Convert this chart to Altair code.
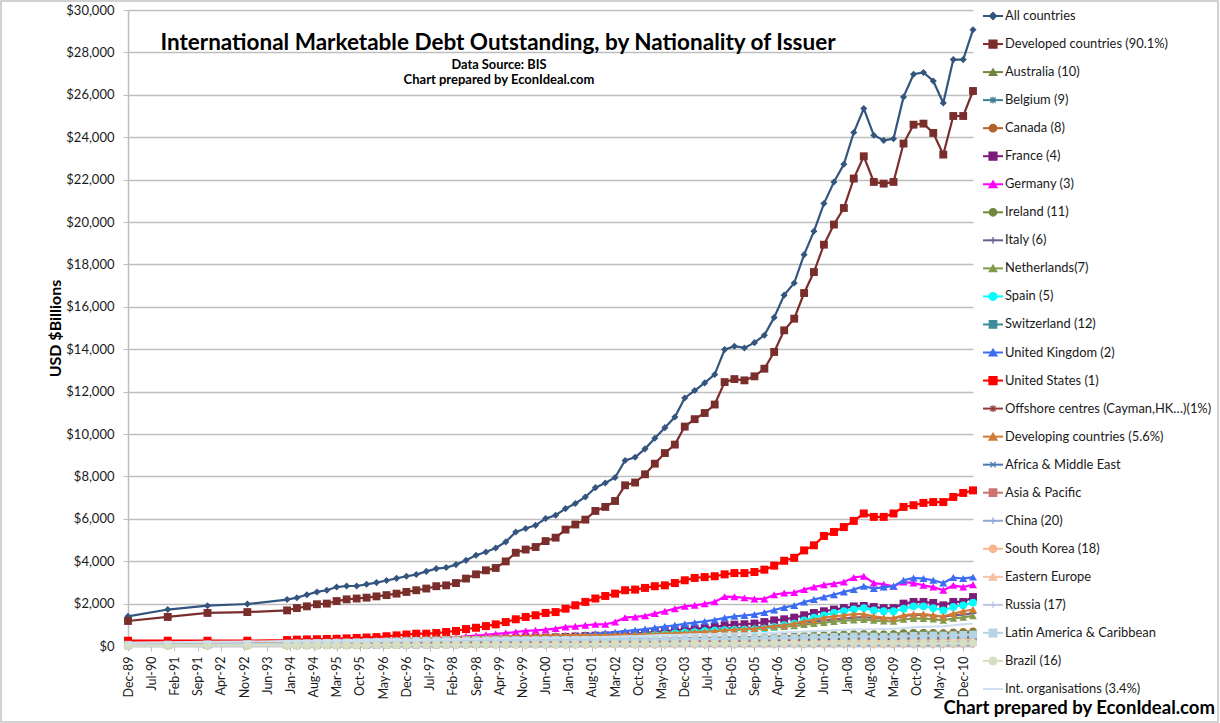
import altair as alt
import pandas as pd

# ---------------- data ----------------
dates = ["1989-12-01", "1990-12-01", "1991-12-01", "1992-12-01", "1993-12-01"] + \
    [f"{y}-{m:02d}-01" for y in range(1994, 2012) for m in (3, 6, 9, 12)][:69]

all_countries = [
    1400, 1720, 1900, 1980, 2190, 2280, 2420, 2550, 2630, 2780,
    2830, 2830, 2910, 2990, 3090, 3190, 3290, 3370, 3520, 3650,
    3700, 3840, 4040, 4280, 4430, 4620, 4910, 5380, 5540, 5690,
    6010, 6170, 6480, 6720, 7030, 7470, 7690, 7950, 8750, 8900,
    9300, 9800, 10300, 10800, 11700, 12050, 12410, 12810, 13980, 14140,
    14060, 14310, 14660, 15500, 16550, 17120, 18460, 19560, 20870, 21890,
    22720, 24220, 25350, 24090, 23850, 23930, 25900, 26970, 27050, 26650,
    25610, 27660, 27660, 29070]
developed = [
    1180, 1370, 1560, 1600, 1680, 1790, 1870, 1970, 2000, 2120,
    2200, 2240, 2280, 2340, 2400, 2470, 2550, 2630, 2710, 2820,
    2860, 2970, 3180, 3380, 3570, 3680, 3990, 4400, 4550, 4670,
    4950, 5110, 5490, 5730, 5960, 6370, 6560, 6840, 7580, 7710,
    8100, 8600, 9100, 9500, 10350, 10700, 10990, 11390, 12450, 12590,
    12530, 12720, 13080, 13870, 14890, 15440, 16650, 17640, 18930, 19880,
    20660, 22050, 23100, 21890, 21810, 21890, 23700, 24590, 24640, 24200,
    23180, 25000, 25000, 26180]
australia = [
    40, 45, 50, 55, 60, 62, 64, 66, 68, 70,
    72, 74, 76, 80, 84, 88, 92, 96, 100, 105,
    110, 115, 120, 125, 130, 135, 140, 145, 150, 155,
    160, 165, 170, 180, 190, 200, 210, 220, 235, 250,
    265, 280, 295, 310, 330, 345, 360, 375, 390, 395,
    400, 410, 420, 435, 450, 465, 480, 495, 510, 520,
    530, 535, 540, 500, 470, 470, 520, 550, 560, 560,
    550, 580, 600, 620]
belgium = [
    20, 25, 30, 35, 40, 42, 44, 46, 48, 50,
    52, 54, 56, 58, 60, 62, 64, 66, 68, 70,
    72, 75, 78, 82, 86, 90, 95, 100, 105, 110,
    115, 120, 125, 130, 135, 140, 145, 150, 160, 170,
    180, 190, 200, 210, 220, 225, 230, 235, 245, 248,
    250, 255, 260, 270, 280, 290, 300, 310, 320, 330,
    340, 345, 350, 345, 340, 340, 355, 365, 365, 360,
    350, 360, 365, 375]
canada = [
    60, 65, 70, 75, 85, 90, 95, 100, 105, 110,
    115, 120, 125, 130, 135, 140, 145, 150, 155, 160,
    165, 170, 180, 190, 200, 205, 210, 215, 220, 225,
    230, 235, 240, 250, 260, 270, 280, 290, 300, 310,
    320, 330, 340, 350, 360, 370, 380, 390, 400, 405,
    410, 420, 430, 445, 460, 475, 490, 505, 520, 535,
    550, 560, 570, 560, 555, 560, 600, 620, 630, 630,
    620, 650, 670, 700]
france = [
    100, 110, 120, 130, 140, 150, 160, 165, 170, 175,
    180, 185, 190, 195, 200, 205, 210, 215, 220, 230,
    240, 250, 265, 280, 300, 320, 340, 360, 380, 390,
    400, 410, 430, 450, 470, 490, 500, 520, 560, 590,
    620, 660, 700, 740, 790, 820, 850, 900, 980, 1010,
    1030, 1060, 1130, 1210, 1260, 1340, 1450, 1560, 1640, 1720,
    1790, 1870, 1890, 1840, 1790, 1790, 2000, 2080, 2080, 2030,
    1920, 2080, 2080, 2310]
germany = [
    80, 90, 100, 110, 130, 140, 150, 160, 170, 180,
    190, 200, 220, 240, 260, 280, 300, 320, 340, 370,
    390, 420, 460, 490, 530, 570, 610, 660, 710, 740,
    770, 820, 900, 930, 980, 1020, 1020, 1130, 1340, 1370,
    1420, 1530, 1640, 1760, 1870, 1920, 1990, 2080, 2330, 2320,
    2270, 2220, 2220, 2420, 2500, 2520, 2660, 2780, 2890, 2940,
    3020, 3230, 3290, 2970, 2910, 2820, 3020, 2970, 2860, 2780,
    2630, 2860, 2780, 2890]
ireland = [
    5, 8, 10, 12, 14, 15, 16, 17, 18, 20,
    22, 24, 26, 28, 30, 33, 36, 40, 44, 48,
    52, 56, 60, 65, 70, 75, 80, 85, 90, 100,
    110, 120, 130, 140, 150, 160, 170, 180, 195, 210,
    225, 240, 255, 270, 290, 305, 320, 335, 350, 360,
    370, 385, 400, 420, 440, 460, 480, 500, 520, 540,
    560, 570, 580, 570, 560, 570, 610, 630, 630, 620,
    600, 620, 630, 650]
italy = [
    50, 55, 60, 70, 80, 85, 90, 95, 100, 110,
    115, 120, 130, 140, 150, 160, 170, 180, 190, 200,
    210, 220, 240, 260, 280, 300, 320, 340, 360, 370,
    380, 390, 400, 420, 440, 460, 480, 500, 540, 560,
    590, 620, 650, 680, 720, 740, 760, 790, 830, 840,
    850, 870, 900, 950, 1000, 1040, 1100, 1160, 1210, 1260,
    1300, 1340, 1360, 1320, 1300, 1300, 1420, 1470, 1470, 1430,
    1380, 1450, 1480, 1550]
netherlands = [
    40, 45, 50, 55, 60, 65, 70, 75, 80, 85,
    90, 95, 100, 105, 110, 120, 130, 140, 150, 160,
    170, 180, 195, 210, 230, 250, 270, 290, 310, 330,
    350, 370, 390, 410, 430, 450, 470, 490, 520, 540,
    570, 600, 630, 660, 700, 720, 740, 760, 790, 800,
    810, 830, 850, 880, 910, 950, 1000, 1050, 1100, 1150,
    1190, 1220, 1240, 1200, 1170, 1160, 1250, 1290, 1290, 1260,
    1210, 1300, 1350, 1420]
spain = [
    30, 35, 40, 45, 50, 52, 54, 56, 58, 60,
    62, 64, 66, 70, 75, 80, 85, 90, 100, 110,
    120, 130, 140, 150, 160, 170, 180, 190, 200, 210,
    220, 240, 260, 280, 300, 330, 350, 380, 410, 440,
    470, 510, 550, 590, 630, 660, 700, 720, 750, 760,
    770, 790, 820, 900, 980, 1060, 1210, 1340, 1450, 1560,
    1650, 1730, 1790, 1680, 1640, 1640, 1760, 1870, 1870, 1790,
    1680, 1840, 1920, 2050]
switzerland = [
    30, 32, 34, 36, 40, 42, 44, 46, 48, 50,
    52, 54, 56, 58, 60, 62, 64, 66, 68, 70,
    72, 74, 76, 78, 80, 83, 86, 90, 94, 98,
    102, 106, 110, 115, 120, 125, 130, 135, 145, 150,
    160, 170, 180, 190, 200, 205, 210, 215, 225, 230,
    235, 240, 250, 260, 270, 280, 295, 310, 325, 340,
    350, 360, 370, 365, 360, 360, 380, 390, 395, 390,
    380, 400, 410, 420]
united_kingdom = [
    60, 70, 80, 90, 100, 110, 120, 130, 140, 150,
    160, 170, 180, 190, 200, 210, 220, 230, 240, 250,
    260, 280, 300, 320, 340, 360, 380, 400, 420, 440,
    460, 480, 500, 520, 550, 580, 610, 650, 700, 750,
    800, 860, 920, 980, 1040, 1100, 1160, 1230, 1330, 1400,
    1440, 1490, 1580, 1700, 1820, 1910, 2070, 2190, 2310, 2420,
    2550, 2660, 2820, 2710, 2780, 2820, 3100, 3210, 3180, 3100,
    2970, 3230, 3180, 3250]
united_states = [
    250, 250, 250, 250, 280, 300, 310, 320, 330, 340,
    360, 380, 400, 420, 460, 500, 540, 580, 580, 610,
    660, 710, 800, 860, 940, 1020, 1130, 1260, 1370, 1450,
    1560, 1600, 1760, 1920, 2080, 2240, 2360, 2470, 2630, 2660,
    2740, 2820, 2860, 2970, 3100, 3210, 3250, 3290, 3380, 3440,
    3440, 3490, 3600, 3790, 4020, 4160, 4510, 4750, 5190, 5380,
    5610, 5900, 6250, 6090, 6090, 6250, 6560, 6640, 6750, 6790,
    6790, 7030, 7220, 7340]
offshore = [
    30, 35, 40, 45, 50, 52, 54, 56, 58, 60,
    62, 64, 66, 68, 70, 72, 74, 76, 78, 80,
    82, 84, 86, 88, 90, 92, 94, 96, 98, 100,
    102, 104, 106, 110, 115, 120, 125, 130, 135, 140,
    145, 150, 155, 160, 165, 170, 175, 180, 185, 190,
    195, 200, 205, 210, 220, 230, 240, 250, 260, 270,
    280, 285, 290, 280, 275, 275, 285, 290, 290, 285,
    280, 290, 295, 300]
developing = [
    80, 90, 100, 120, 160, 180, 190, 200, 210, 220,
    230, 240, 250, 270, 290, 310, 330, 350, 370, 390,
    400, 410, 420, 420, 430, 440, 450, 460, 470, 480,
    490, 500, 500, 510, 520, 520, 520, 530, 530, 530,
    540, 560, 580, 600, 620, 650, 670, 700, 740, 770,
    790, 820, 870, 930, 980, 1060, 1160, 1240, 1340, 1400,
    1450, 1500, 1500, 1400, 1340, 1320, 1450, 1500, 1500, 1450,
    1400, 1530, 1640, 1720]
africa_me = [
    20, 22, 24, 26, 30, 32, 33, 34, 35, 36,
    37, 38, 40, 42, 44, 46, 48, 50, 52, 54,
    56, 58, 60, 62, 64, 66, 68, 70, 72, 74,
    76, 78, 80, 82, 84, 86, 88, 90, 92, 95,
    98, 100, 105, 110, 115, 120, 125, 130, 135, 140,
    145, 150, 155, 160, 165, 170, 175, 180, 185, 190,
    195, 200, 205, 200, 195, 195, 205, 210, 215, 215,
    212, 220, 225, 230]
asia_pacific = [
    30, 35, 40, 50, 70, 80, 85, 90, 95, 100,
    105, 110, 115, 125, 135, 145, 155, 165, 175, 180,
    180, 180, 178, 176, 175, 175, 176, 178, 180, 182,
    184, 186, 188, 190, 192, 194, 196, 198, 200, 202,
    205, 210, 215, 220, 225, 235, 245, 255, 265, 275,
    285, 295, 305, 320, 335, 350, 370, 390, 410, 425,
    440, 450, 450, 420, 400, 395, 430, 450, 455, 450,
    440, 470, 490, 510]
china = [
    5, 8, 10, 12, 15, 16, 17, 18, 19, 20,
    20, 21, 21, 22, 22, 23, 23, 24, 24, 25,
    25, 25, 25, 25, 25, 25, 25, 25, 25, 25,
    25, 25, 25, 25, 25, 26, 26, 27, 27, 28,
    28, 29, 30, 30, 31, 31, 32, 32, 33, 33,
    34, 34, 35, 35, 36, 36, 37, 37, 38, 38,
    39, 39, 40, 40, 40, 40, 41, 42, 43, 44,
    45, 47, 50, 52]
south_korea = [
    5, 7, 9, 11, 15, 17, 19, 21, 23, 25,
    27, 29, 31, 34, 37, 40, 44, 48, 50, 50,
    50, 48, 47, 46, 45, 45, 46, 47, 48, 49,
    50, 51, 52, 53, 54, 55, 56, 57, 58, 60,
    62, 64, 66, 68, 70, 72, 74, 76, 78, 80,
    82, 84, 86, 88, 90, 92, 94, 96, 98, 100,
    102, 104, 104, 98, 94, 94, 100, 106, 108, 108,
    106, 110, 114, 118]
eastern_europe = [
    20, 22, 24, 26, 30, 32, 34, 36, 38, 40,
    42, 44, 46, 48, 50, 52, 54, 56, 58, 60,
    62, 64, 66, 68, 70, 72, 74, 76, 78, 80,
    82, 84, 86, 88, 90, 92, 94, 96, 98, 100,
    104, 108, 112, 116, 120, 125, 130, 135, 140, 145,
    150, 155, 160, 170, 180, 190, 200, 210, 220, 230,
    240, 250, 255, 245, 235, 235, 250, 260, 265, 265,
    260, 275, 285, 300]
russia = [
    10, 12, 14, 16, 18, 19, 20, 21, 22, 23,
    24, 25, 26, 27, 28, 29, 30, 32, 34, 36,
    38, 40, 38, 36, 35, 35, 35, 35, 35, 35,
    36, 37, 38, 39, 40, 41, 42, 43, 44, 45,
    46, 47, 48, 49, 50, 52, 54, 56, 58, 60,
    62, 64, 66, 70, 74, 78, 82, 86, 90, 94,
    98, 100, 102, 98, 94, 94, 98, 100, 102, 102,
    100, 104, 108, 112]
latin_america = [
    60, 70, 80, 90, 110, 120, 130, 140, 150, 160,
    170, 180, 190, 200, 210, 220, 230, 240, 250, 255,
    260, 265, 270, 272, 274, 276, 278, 280, 282, 284,
    286, 288, 290, 292, 294, 296, 298, 300, 300, 300,
    300, 305, 310, 315, 320, 325, 330, 335, 340, 345,
    350, 355, 360, 370, 380, 390, 400, 410, 420, 430,
    440, 450, 455, 445, 440, 440, 460, 480, 490, 495,
    495, 510, 525, 540]
brazil = [
    20, 22, 24, 26, 30, 32, 34, 36, 38, 40,
    42, 44, 46, 48, 50, 52, 54, 56, 58, 60,
    62, 64, 66, 68, 70, 72, 74, 76, 78, 80,
    82, 84, 86, 88, 90, 92, 94, 96, 98, 100,
    102, 104, 106, 108, 110, 112, 114, 116, 118, 120,
    122, 124, 126, 128, 130, 132, 134, 136, 138, 140,
    142, 144, 146, 142, 140, 140, 146, 150, 152, 152,
    150, 156, 160, 165]
int_orgs = [
    150, 170, 190, 210, 230, 240, 245, 250, 255, 260,
    265, 270, 275, 280, 285, 290, 295, 300, 305, 310,
    315, 320, 330, 340, 350, 355, 360, 365, 370, 375,
    380, 385, 390, 395, 400, 410, 420, 430, 450, 460,
    480, 500, 510, 520, 540, 550, 555, 560, 580, 580,
    585, 590, 600, 620, 640, 660, 680, 700, 720, 740,
    760, 780, 790, 790, 800, 810, 850, 880, 900, 920,
    930, 980, 1020, 1060]

y_ticks = list(range(0, 30001, 2000))

# ---------------- styles ----------------
PLUS = "M-1,0L1,0M0,-1L0,1"
ASTER = "M-0.8,-0.8L0.8,0.8M-0.8,0.8L0.8,-0.8M0,-1L0,1"
XMARK = "M-0.8,-0.8L0.8,0.8M-0.8,0.8L0.8,-0.8"

series = [
    ("All countries", all_countries, "#33557E", "diamond", True, 50),
    ("Developed countries (90.1%)", developed, "#7A2E2C", "square", True, 62),
    ("Australia (10)", australia, "#72863A", "triangle-up", True, 58),
    ("Belgium (9)", belgium, "#3D7F91", ASTER, False, 45),
    ("Canada (8)", canada, "#B4622A", "circle", True, 55),
    ("France (4)", france, "#7B1C7B", "square", True, 62),
    ("Germany (3)", germany, "#FF00FF", "triangle-up", True, 64),
    ("Ireland (11)", ireland, "#6F8A3C", "circle", True, 55),
    ("Italy (6)", italy, "#6E5C8E", PLUS, False, 45),
    ("Netherlands(7)", netherlands, "#849A4C", "triangle-up", True, 58),
    ("Spain (5)", spain, "#00FFFF", "circle", True, 60),
    ("Switzerland (12)", switzerland, "#3E8B9B", "square", True, 55),
    ("United Kingdom (2)", united_kingdom, "#3C6CF2", "triangle-up", True, 64),
    ("United States (1)", united_states, "#FF0000", "square", True, 64),
    ("Offshore centres (Cayman,HK…)(1%)", offshore, "#8F3B3B", ASTER, False, 45),
    ("Developing countries (5.6%)", developing, "#D17C34", "triangle-up", True, 64),
    ("Africa & Middle East", africa_me, "#4A7AB0", XMARK, False, 45),
    ("Asia & Pacific", asia_pacific, "#CC7472", "square", True, 55),
    ("China (20)", china, "#8DA6D6", PLUS, False, 45),
    ("South Korea (18)", south_korea, "#F7B48E", "circle", True, 55),
    ("Eastern Europe", eastern_europe, "#F8C0A2", "triangle-up", True, 58),
    ("Russia (17)", russia, "#B9C5E3", PLUS, False, 45),
    ("Latin America & Caribbean", latin_america, "#B7D4E5", "square", True, 60),
    ("Brazil (16)", brazil, "#D6DFC4", "circle", True, 60),
    ("Int. organisations (3.4%)", int_orgs, "#D0DFEE", None, True, 0),
]

FONT = "Lato"
GRID = "#BEBEBE"

tick_dates = []
for k in range(37):
    m = 12 + 7 * k
    yy = 1989 + (m - 1) // 12
    mm = (m - 1) % 12 + 1
    tick_dates.append(alt.DateTime(year=yy, month=mm, date=1, utc=True))

x_enc = alt.X(
    "date:T",
    scale=alt.Scale(type="utc", domain=[alt.DateTime(year=1989, month=12, date=1, utc=True),
                                        alt.DateTime(year=2011, month=3, date=1, utc=True)]),
    axis=alt.Axis(values=tick_dates, labelExpr="utcFormat(datum.value, '%b-%y')",
                  labelAngle=270, labelFont=FONT, labelFontSize=12.5, labelColor="#1a1a1a",
                  labelPadding=5, tickSize=5, tickColor=GRID, domainColor=GRID, domainWidth=1.5,
                  grid=False, title=None, labelOverlap=False, labelFlush=False),
)
y_enc = alt.Y(
    "value:Q",
    scale=alt.Scale(domain=[0, 30000], nice=False, zero=True),
    axis=alt.Axis(values=y_ticks, format="$,.0f", labelFont=FONT, labelFontSize=13,
                  labelColor="#1a1a1a", labelPadding=9, tickSize=5, tickColor=GRID,
                  domainColor=GRID, domainWidth=1.5, grid=True, gridColor=GRID, gridWidth=1.5,
                  labelFlush=False,
                  title="USD $Billions", titleFont=FONT, titleFontSize=16, titleFontWeight="bold",
                  titleColor="#000000", titleAngle=270, titleX=-73, titleY=318,
                  titleAlign="center", titleBaseline="middle"),
)

layers = []
for name, vals, color, shape, filled, size in series:
    d = pd.DataFrame({"date": dates, "value": vals})
    if shape is None:
        pt = False
    elif filled:
        pt = alt.OverlayMarkDef(shape=shape, filled=True, size=size, color=color, opacity=1)
    else:
        pt = alt.OverlayMarkDef(shape=shape, filled=False, size=size, color=color, opacity=1,
                                strokeWidth=1.5)
    layers.append(
        alt.Chart(d).mark_line(color=color, strokeWidth=2.2, point=pt).encode(x=x_enc, y=y_enc)
    )
main = alt.layer(*layers)

# ---------------- legend (drawn as marks) ----------------
names = [s[0] for s in series]
leg = pd.DataFrame({
    "name": names,
    "color": [s[2] for s in series],
    "shape": [s[3] if s[3] is not None else "circle" for s in series],
    "fillc": [(s[2] if s[4] else "transparent") if s[3] is not None else "transparent" for s in series],
    "strokec": [s[2] if s[3] is not None else "transparent" for s in series],
    "size": [s[5] if s[5] else 1 for s in series],
})
yl = alt.Y("name:N", scale=alt.Scale(type="point", domain=names, range=[6, 679], padding=0),
           axis=None)
leg_rule = alt.Chart(leg).mark_rule(strokeWidth=2).encode(
    x=alt.value(855), x2=alt.value(875), y=yl, color=alt.Color("color:N", scale=None))
leg_pts = alt.Chart(leg).mark_point(opacity=1, strokeWidth=1.3).encode(
    x=alt.value(865), y=yl,
    shape=alt.Shape("shape:N", scale=None),
    fill=alt.Fill("fillc:N", scale=None),
    stroke=alt.Stroke("strokec:N", scale=None),
    size=alt.Size("size:Q", scale=None))
leg_txt = alt.Chart(leg).mark_text(align="left", baseline="middle", font=FONT, fontSize=12.9,
                                   color="#1a1a1a").encode(
    x=alt.value(877), y=yl, text="name:N")

# ---------------- titles ----------------
def label(txt, x, y, size, align="center"):
    return alt.Chart(pd.DataFrame({"t": [txt]})).mark_text(
        font=FONT, fontSize=size, fontWeight="bold", color="#000000", align=align,
        baseline="alphabetic").encode(x=alt.value(x), y=alt.value(y), text="t:N")

t1 = label("International Marketable Debt Outstanding, by Nationality of Issuer", 370, 40, 22.5)
t2 = label("Data Source: BIS", 371, 59, 12.8)
t3 = label("Chart prepared by EconIdeal.com", 371, 74, 13)
t4 = label("Chart prepared by EconIdeal.com", 1087, 704, 18.5, align="right")

border = alt.Chart(pd.DataFrame({"a": [0]})).mark_rect(
    fill="white", fillOpacity=0, stroke="#C4C4C4", strokeWidth=1.5).encode(
    x=alt.value(-127), x2=alt.value(1090), y=alt.value(-9), y2=alt.value(712))

side = alt.layer(leg_rule, leg_pts, leg_txt, t1, t2, t3, t4, border)

chart = alt.layer(main, side).resolve_scale(y="independent").properties(
    width=845, height=636,
    autosize=alt.AutoSizeParams(type="none"),
    padding={"left": 128, "top": 10, "right": 247, "bottom": 77},
    background="white",
).configure_view(stroke=None)

chart.save("out.html", embed_options={"renderer": "svg", "actions": False})
